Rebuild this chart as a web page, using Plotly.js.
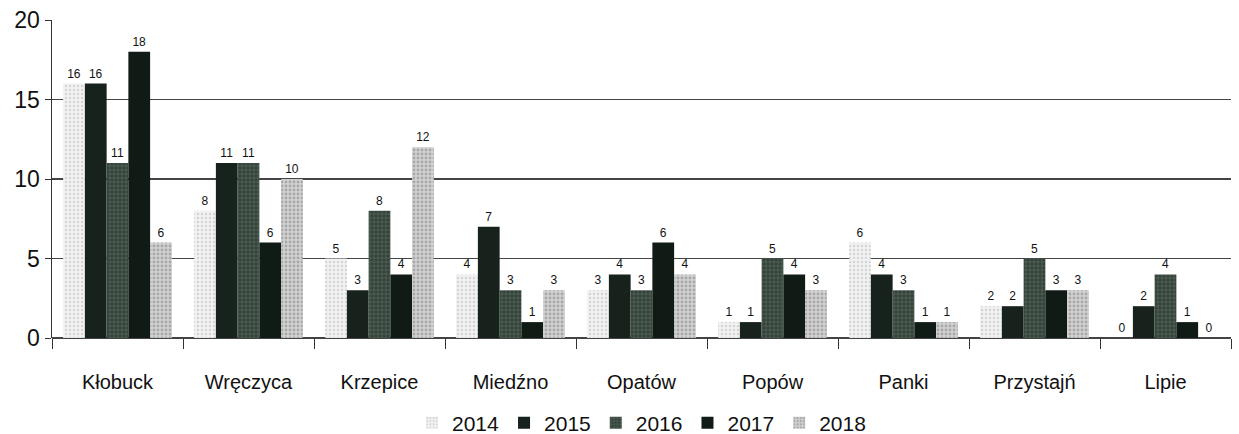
<!DOCTYPE html>
<html>
<head>
<meta charset="utf-8">
<script src="https://cdn.plot.ly/plotly-3.0.1.min.js"></script>
<style>html,body{margin:0;padding:0;background:#fff;}#chart{width:1239px;height:434px;}</style>
</head>
<body>
<div id="chart"></div>
<script>
const categories = ["Kłobuck","Wręczyca","Krzepice","Miedźno","Opatów","Popów","Panki","Przystajń","Lipie"];
const years = ["2014","2015","2016","2017","2018"];
const v2014 = [16,8,5,4,3,1,6,2,0];
const v2015 = [16,11,3,7,4,1,4,2,2];
const v2016 = [11,11,8,3,3,5,3,5,4];
const v2017 = [18,6,4,1,6,4,1,3,1];
const v2018 = [6,10,12,3,4,3,1,3,0];
const seriesValues = [v2014,v2015,v2016,v2017,v2018];

const colors = ["#ececec","#16221b","#3d4b42","#111b15","#c9c9c9"];
const patterns = [
  {shape:".", fgcolor:"#d4d4d4", bgcolor:"#f2f2f2", size:4, solidity:0.3},
  {shape:""},
  {shape:"+", fgcolor:"#5b6a60", bgcolor:"#34423a", size:4, solidity:0.3},
  {shape:""},
  {shape:".", fgcolor:"#a8a8a8", bgcolor:"#d2d2d2", size:4, solidity:0.4}
];

const traces = years.map((y,i)=>({
  type:"bar",
  name:y,
  x:categories,
  y:seriesValues[i],
  text:seriesValues[i].map(String),
  textposition:"outside",
  textfont:{family:"Liberation Sans, Arial, sans-serif", size:12, color:"#111111"},
  outsidetextfont:{family:"Liberation Sans, Arial, sans-serif", size:12, color:"#111111"},
  cliponaxis:false,
  marker:{color:colors[i], pattern:patterns[i], line:{width:0}}
}));

const layout = {
  width:1239, height:434,
  margin:{l:52, r:8, t:20, b:96, autoexpand:false},
  paper_bgcolor:"#fff", plot_bgcolor:"#fff",
  barmode:"group", bargap:0.17, bargroupgap:0,
  font:{family:"Liberation Sans, Arial, sans-serif", color:"#111"},
  xaxis:{
    showgrid:false, tickson:"boundaries", ticks:"outside", ticklen:10, tickcolor:"#333",
    tickfont:{size:20, color:"#111"}, showline:false, zeroline:false,
    automargin:false, ticklabelstandoff:30
  },
  yaxis:{
    range:[0,20], tickvals:[0,5,10,15,20], showgrid:true, gridcolor:"#444", gridwidth:1.5,
    showline:true, linecolor:"#333", linewidth:1.5, ticks:"outside", ticklen:6, tickcolor:"#333",
    tickfont:{size:23, color:"#111"}, zeroline:true, zerolinecolor:"#444", zerolinewidth:1.5,
    automargin:false
  },
  legend:{orientation:"h", x:0.5, xanchor:"center", y:0.025, yref:"container", yanchor:"middle",
    font:{size:21, color:"#111"}, traceorder:"normal"},
  showlegend:true
};

Plotly.newPlot("chart", traces, layout, {displayModeBar:false, staticPlot:true});
</script>
</body>
</html>
